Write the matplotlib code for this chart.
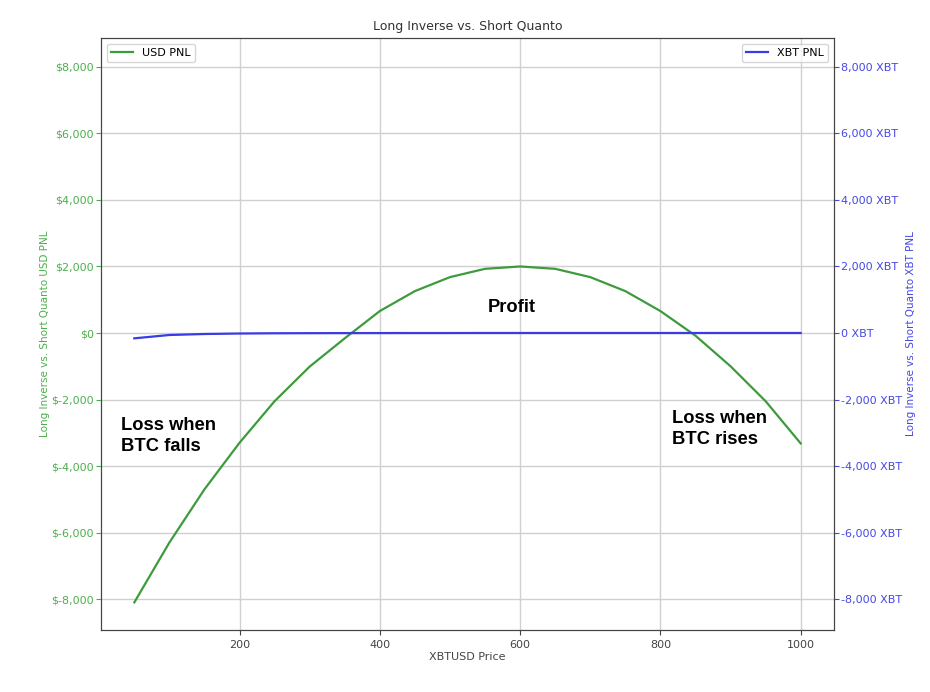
import matplotlib.pyplot as plt
import matplotlib.ticker as mticker

price = [50, 100, 150, 200, 250, 300, 350, 400, 450, 500,
         550, 600, 650, 700, 750, 800, 850, 900, 950, 1000]
usd_pnl = [-8100, -6300, -4700, -3300, -2050, -1010, -160, 660, 1260, 1680,
           1930, 2000, 1930, 1680, 1260, 660, -80, -1000, -2050, -3320]
xbt_pnl = [-160, -60, -30, -15, -8, -5, -3, -2, -1, -1,
           0, 0, 0, 0, 0, 0, 0, 0, 0, 0]

green = "#3d9b3d"
green_txt = "#4caf4c"
blue = "#3a3ae6"
blue_txt = "#4646e6"

fig = plt.figure(figsize=(9.3, 6.92), dpi=100)
ax = fig.add_axes([101/930, 62/692, 733/930, 592/692])
ax2 = ax.twinx()

ax.plot(price, usd_pnl, color=green, lw=1.6, label="USD PNL")
ax2.plot(price, xbt_pnl, color=blue, lw=1.6, label="XBT PNL")

ylim = (-8930, 8870)
ax.set_ylim(ylim)
ax2.set_ylim(ylim)
ticks = [-8000, -6000, -4000, -2000, 0, 2000, 4000, 6000, 8000]
ax.set_yticks(ticks)
ax2.set_yticks(ticks)
ax.set_xticks([200, 400, 600, 800, 1000])

ax.yaxis.set_major_formatter(mticker.FuncFormatter(lambda v, p: "${:,.0f}".format(v)))
ax2.yaxis.set_major_formatter(mticker.FuncFormatter(lambda v, p: "{:,.0f} XBT".format(v)))

ax.tick_params(axis="y", colors=green_txt, labelsize=8, pad=1.5)
ax.tick_params(axis="x", colors="#444444", labelsize=8)
ax2.tick_params(axis="y", colors=blue_txt, labelsize=8, pad=1.5)
ax.grid(True, color="#d0d0d0", lw=1)

for a in (ax, ax2):
    for s in a.spines.values():
        s.set_color("#444444")

ax.set_title("Long Inverse vs. Short Quanto", fontsize=9, color="#333333")
ax.set_xlabel("XBTUSD Price", fontsize=8, color="#444444", labelpad=2)
ax.set_ylabel("Long Inverse vs. Short Quanto USD PNL", fontsize=7.5, color=green_txt, labelpad=1)
ax2.set_ylabel("Long Inverse vs. Short Quanto XBT PNL", fontsize=7.5, color=blue_txt, labelpad=3)

ax.legend(loc="upper left", fontsize=8)
ax2.legend(loc="upper right", fontsize=8)

font = dict(fontsize=13.2, fontweight="bold", family="Liberation Sans", color="black",
            linespacing=1.35)
ax.text(31, -3100, "Loss when\nBTC falls", va="center", ha="left", **font)
ax.text(554, 780, "Profit", va="center", ha="left", **font)
ax.text(817, -2880, "Loss when\nBTC rises", va="center", ha="left", **font)

fig.savefig("out.png", dpi=100)
